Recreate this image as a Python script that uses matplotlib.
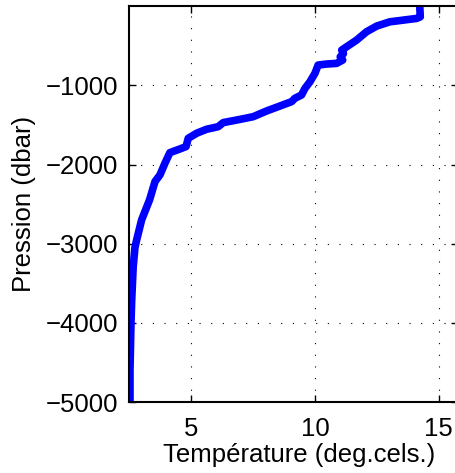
import numpy as np
import matplotlib
matplotlib.use("Agg")
import matplotlib.pyplot as plt

# temperature (deg C) vs pressure (dbar)
temperature = [14.23, 14.25, 14.1, 13.55, 13.02, 12.49, 12.08, 11.68, 11.28, 11.08,
               11.15, 11.02, 11.12, 10.87, 10.47, 10.13, 10.0, 9.80, 9.60, 9.46,
               9.19, 9.06, 8.59, 8.05, 7.51, 6.98, 6.30, 6.10, 5.63, 5.23,
               4.89, 4.80, 4.56, 4.15, 3.95, 3.75, 3.55, 3.33, 3.01, 2.81,
               2.74, 2.67, 2.61, 2.58, 2.56, 2.54, 2.54]
pressure = [-10, -135, -155, -177, -198, -252, -324, -429, -513, -555,
            -600, -640, -681, -723, -731, -744, -849, -955, -1038, -1122,
            -1164, -1206, -1261, -1324, -1396, -1430, -1471, -1522, -1555, -1605,
            -1669, -1774, -1803, -1850, -1984, -2131, -2215, -2446, -2699, -2951,
            -3050, -3288, -3707, -4000, -4300, -4600, -4990]

xticks = [5, 10, 15]
yticks = [-5000, -4000, -3000, -2000, -1000]

plt.rcParams["font.family"] = ["Liberation Sans", "DejaVu Sans"]

fig = plt.figure(figsize=(4.55, 4.73), dpi=100)
ax = fig.add_axes([0.2835, 0.150, 0.723, 0.837])
ax.plot(temperature, pressure, color="#0000ff", lw=5.5, solid_capstyle="round",
        solid_joinstyle="round")
ax.set_xlim(2.5, 15.77)
ax.set_ylim(-5000, 0)
ax.set_xticks(xticks)
ax.set_yticks(yticks)
ax.set_yticklabels([f"\u2212{abs(v)}" for v in yticks])
ax.grid(True, ls=(0, (1, 9.5)), color="black", lw=0.8)
ax.tick_params(direction="in", length=5, width=1, top=True, right=True, labelsize=18.5)
ax.tick_params(axis="y", pad=8)
ax.tick_params(axis="x", pad=11)
for s in ax.spines.values():
    s.set_linewidth(1.5)
ax.set_xlabel("Température (deg.cels.)", fontsize=18.5, labelpad=1.5)
ax.xaxis.label.set_x(0.517)
ax.set_ylabel("Pression (dbar)", fontsize=18.5, labelpad=7)
fig.savefig("out.png", dpi=100)
